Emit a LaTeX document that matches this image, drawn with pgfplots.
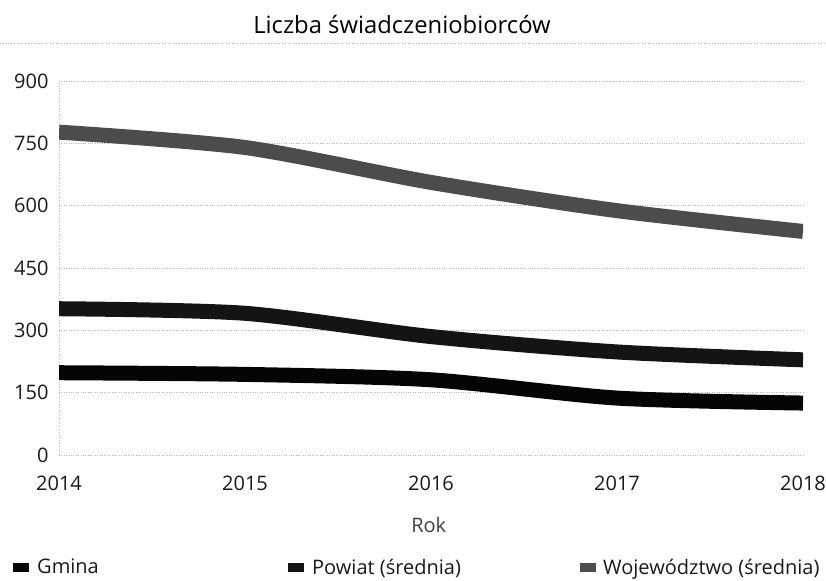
\documentclass[border=0pt]{standalone}
\usepackage{fontspec}
\setmainfont{Open Sans}
\usepackage{pgfplots}
\pgfplotsset{compat=1.18}
\definecolor{woj}{HTML}{4C4C4C}
\definecolor{pow}{HTML}{141414}
\definecolor{gmi}{HTML}{050505}
\definecolor{gridc}{HTML}{B8B8B8}
\begin{document}
\begin{tikzpicture}
\path[use as bounding box] (0bp,0bp) rectangle (826bp,581bp);
\node[font=\fontsize{23.8bp}{28bp}\selectfont, text=black] at (402bp,556bp) {Liczba świadczeniobiorców};
\draw[gridc, dotted, line width=0.8bp] (0bp,538bp) -- (826bp,538bp);
\begin{axis}[
  at={(59bp,126bp)}, anchor=south west,
  width=744bp, height=374bp, scale only axis,
  xmin=2014, xmax=2018, ymin=0, ymax=900,
  xtick={2014,2015,2016,2017,2018},
  ytick={0,150,300,450,600,750,900},
  /pgf/number format/assume math mode=true,
  /pgf/number format/1000 sep={},
  major tick length=0pt,
  axis x line*=bottom, axis y line*=left,
  x axis line style={draw=none},
  y axis line style={gridc, dotted, line width=0.8bp},
  ymajorgrids, grid style={gridc, dotted, line width=0.8bp},
  tick label style={font=\fontsize{20bp}{24bp}\selectfont, text=black!90},
  yticklabel style={anchor=east, xshift=-7bp},
  xticklabel style={anchor=center, yshift=-28bp},
  xlabel={Rok},
  xlabel style={at={(axis description cs:0.497,-0.187)}, anchor=center, font=\fontsize{20bp}{24bp}\selectfont, text=black!75},
  legend columns=3,
  legend style={at={(-0.0618,-0.3)}, anchor=west, draw=none, fill=none, inner sep=0pt,
    font=\fontsize{20bp}{24bp}\selectfont, text=black!90},
  legend image code/.code={\fill[#1, draw=none] (0bp,-4.5bp) rectangle (16bp,4.5bp);},
  legend cell align=left,
]
\addplot[color=gmi, line width=15bp, smooth, tension=0.45] coordinates {
  (2014,198) (2015,194) (2016,181) (2017,137) (2018,125)};
\addlegendentry{\hspace{6bp}\makebox[249bp][l]{Gmina}}
\addplot[color=pow, line width=15bp, smooth, tension=0.45] coordinates {
  (2014,352) (2015,341) (2016,285) (2017,248) (2018,229)};
\addlegendentry{\hspace{6bp}\makebox[266bp][l]{Powiat (średnia)}}
\addplot[color=woj, line width=15bp, smooth, tension=0.45] coordinates {
  (2014,777) (2015,740) (2016,656) (2017,588) (2018,538)};
\addlegendentry{\hspace{5bp}Województwo (średnia)}
\end{axis}
\end{tikzpicture}
\end{document}
